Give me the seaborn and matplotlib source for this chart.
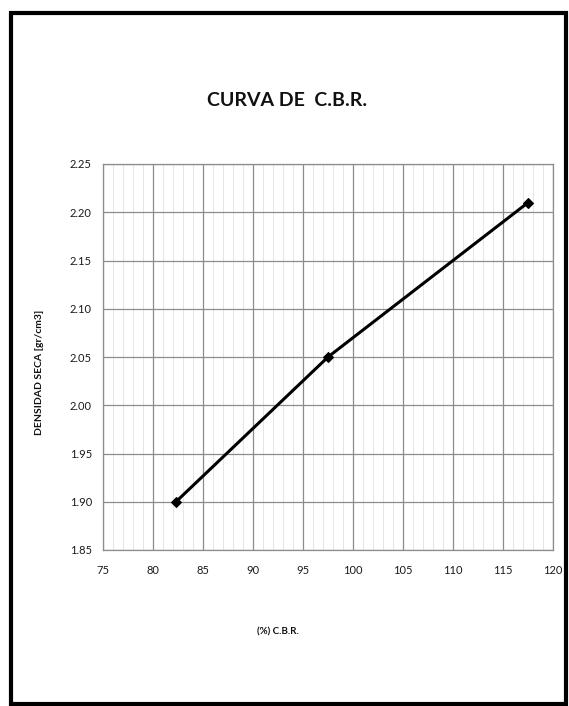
import matplotlib
matplotlib.use("Agg")
import matplotlib.pyplot as plt
import matplotlib.patches as patches
from matplotlib.ticker import MultipleLocator
import numpy as np
import pandas as pd
import seaborn as sns

# Curva de C.B.R.: densidad seca vs. porcentaje de C.B.R.
cbr_pct = [82.3, 97.5, 117.5]
densidad_seca = [1.90, 2.05, 2.21]

x_ticks = [75, 80, 85, 90, 95, 100, 105, 110, 115, 120]
y_ticks = [1.85, 1.90, 1.95, 2.00, 2.05, 2.10, 2.15, 2.20, 2.25]
y_tick_labels = ["1.85", "1.90", "1.95", "2.00", "2.05", "2.10", "2.15", "2.20", "2.25"]

df = pd.DataFrame({"cbr": cbr_pct, "densidad": densidad_seca})

sns.set_style("white")
plt.rcParams["font.family"] = ["Lato", "DejaVu Sans"]

W, H = 569, 706
fig = plt.figure(figsize=(W / 100, H / 100), dpi=100)
fig.patch.set_facecolor("white")

left, right, top, bottom = 103, 553, 164, 550
ax = fig.add_axes([left / W, 1 - bottom / H, (right - left) / W, (bottom - top) / H])

sns.lineplot(data=df, x="cbr", y="densidad", ax=ax, color="black", linewidth=2.2,
             marker="D", markersize=5.5, markeredgecolor="black", markerfacecolor="black",
             zorder=5)

ax.set_xlim(75, 120)
ax.set_ylim(1.85, 2.25)
ax.set_xticks(x_ticks)
ax.set_xticklabels([str(v) for v in x_ticks])
ax.set_yticks(y_ticks)
ax.set_yticklabels(y_tick_labels)
ax.xaxis.set_minor_locator(MultipleLocator(1))

ax.grid(True, which="major", color="#8c8c8c", linewidth=0.9)
ax.grid(True, which="minor", axis="x", color="#e6e6e6", linewidth=0.7)
ax.set_axisbelow(True)
for s in ax.spines.values():
    s.set_color("#8c8c8c")
    s.set_linewidth(0.9)

ax.tick_params(axis="both", which="major", labelsize=8, length=3, width=0.8,
               color="#8c8c8c", labelcolor="#1a1a1a")
ax.tick_params(axis="x", which="major", pad=8)
ax.tick_params(axis="y", which="major", pad=5)
ax.tick_params(axis="x", which="minor", length=0)
ax.set_xlabel("")
ax.set_ylabel("")

# Títulos y rótulos de ejes
fig.text(287 / W, 1 - 100 / H, "CURVA DE  C.B.R.", ha="center", va="center",
         fontsize=14, fontweight="bold", color="#111111")
fig.text(278 / W, 1 - 632 / H, "(%) C.B.R.", ha="center", va="center",
         fontsize=7, fontweight="bold", color="#111111")
fig.text(39 / W, 1 - 372 / H, "DENSIDAD SECA [gr/cm3]", ha="center", va="center",
         rotation=90, fontsize=7.5, fontweight="bold", color="#111111")

# Marco exterior
frame = patches.Rectangle((11 / W, 1 - 704 / H), (566 - 11) / W, (704 - 13) / H,
                          transform=fig.transFigure, fill=False, edgecolor="black",
                          linewidth=3, zorder=10)
fig.patches.append(frame)

fig.savefig("out.png", dpi=100, facecolor="white")
